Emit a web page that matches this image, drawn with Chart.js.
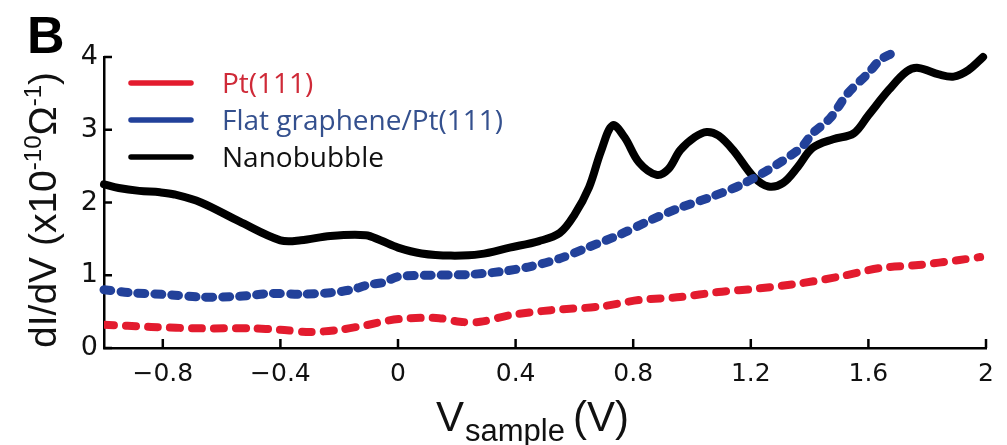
<!DOCTYPE html>
<html>
<head>
<meta charset="utf-8">
<script src="https://cdn.jsdelivr.net/npm/chart.js@4.4.0/dist/chart.umd.min.js"></script>
<style>
  body { margin: 0; background: #fff; }
  #wrap { width: 1007px; height: 445px; }
</style>
</head>
<body>
<div id="wrap"><canvas id="chart" width="1007" height="445"></canvas></div>
<script>
// dI/dV spectra, values
var seriesNames = ['Pt(111)', 'Flat graphene/Pt(111)', 'Nanobubble'];

var redX = [-1, -0.84, -0.67, -0.5, -0.4, -0.3, -0.2, -0.1, -0.03, 0.04, 0.14, 0.21, 0.28, 0.38, 0.52, 0.69, 0.82, 0.96, 1.09, 1.23, 1.37, 1.5, 1.64, 1.77, 1.91, 1.98];
var redY = [0.32, 0.29, 0.27, 0.27, 0.25, 0.22, 0.25, 0.32, 0.38, 0.41, 0.41, 0.36, 0.36, 0.45, 0.52, 0.57, 0.66, 0.7, 0.77, 0.82, 0.89, 0.98, 1.1, 1.14, 1.21, 1.25];

var blueX = [-1, -0.91, -0.77, -0.67, -0.54, -0.43, -0.33, -0.23, -0.16, -0.1, -0.05, 0, 0.11, 0.24, 0.35, 0.45, 0.55, 0.65, 0.75, 0.86, 0.96, 1.06, 1.16, 1.26, 1.37, 1.41, 1.47, 1.53, 1.6, 1.64, 1.68];
var blueY = [0.8, 0.76, 0.73, 0.7, 0.71, 0.75, 0.74, 0.76, 0.8, 0.87, 0.9, 0.98, 1.0, 1.01, 1.05, 1.12, 1.23, 1.39, 1.55, 1.76, 1.93, 2.07, 2.23, 2.45, 2.75, 2.95, 3.16, 3.5, 3.78, 3.96, 4.05];

var blackX = [-1, -0.95, -0.88, -0.81, -0.76, -0.67, -0.54, -0.4, -0.33, -0.23, -0.11, -0.06, 0, 0.08, 0.18, 0.28, 0.38, 0.48, 0.55, 0.6, 0.65, 0.69, 0.73, 0.77, 0.82, 0.88, 0.92, 0.96, 1.01, 1.05, 1.09, 1.14, 1.21, 1.26, 1.31, 1.36, 1.41, 1.48, 1.55, 1.6, 1.67, 1.73, 1.77, 1.84, 1.89, 1.94, 1.99];
var blackY = [2.25, 2.2, 2.16, 2.14, 2.11, 2.0, 1.74, 1.48, 1.48, 1.54, 1.55, 1.48, 1.38, 1.3, 1.27, 1.29, 1.38, 1.47, 1.58, 1.83, 2.21, 2.7, 3.06, 2.9, 2.55, 2.38, 2.46, 2.72, 2.9, 2.97, 2.92, 2.72, 2.35, 2.22, 2.27, 2.49, 2.75, 2.87, 2.95, 3.2, 3.55, 3.8, 3.85, 3.76, 3.73, 3.82, 4.0];

var xTicks = [-0.8, -0.4, 0, 0.4, 0.8, 1.2, 1.6, 2];
var yTicks = [0, 1, 2, 3, 4];

function pts(xs, ys) {
	var out = [];
	for (var i = 0; i < xs.length; i++) {
		out.push({x: xs[i], y: ys[i]});
	}
	return out;
}

var lineColors = ['#e31b2e', '#22419a', '#000000'];
var textColors = ['#cf2a38', '#34508e', '#111111'];

// tick marks pointing into the plot, titles with sub/superscripts, legend
var decorations = {
	id: 'decorations',
	afterDraw: function (chart) {
		var c = chart.ctx;
		var a = chart.chartArea;
		var xs = chart.scales.x, ys = chart.scales.y;
		c.save();
		c.strokeStyle = '#000';
		c.lineWidth = 2.5;
		xTicks.forEach(function (v) {
			var p = xs.getPixelForValue(v);
			c.beginPath(); c.moveTo(p, a.bottom); c.lineTo(p, a.bottom - 9); c.stroke();
		});
		yTicks.forEach(function (v) {
			var p = ys.getPixelForValue(v);
			c.beginPath(); c.moveTo(a.left, p); c.lineTo(a.left + 8, p); c.stroke();
		});

		// legend
		for (var i = 0; i < seriesNames.length; i++) {
			var ly = 83 + i * 37;
			c.strokeStyle = lineColors[i];
			c.lineWidth = 5.5;
			c.lineCap = 'round';
			c.beginPath(); c.moveTo(131, ly); c.lineTo(191, ly); c.stroke();
			c.fillStyle = textColors[i];
			c.font = '28px "Open Sans"';
			c.textBaseline = 'alphabetic';
			c.textAlign = 'left';
			c.fillText(seriesNames[i], 222, ly + 10);
		}

		// x title: V_sample (V)
		c.fillStyle = '#111';
		c.textBaseline = 'alphabetic';
		c.font = '42px "Liberation Sans"';
		var x0 = 436;
		c.fillText('V', x0, 431);
		x0 += c.measureText('V').width + 1;
		c.font = '31px "Liberation Sans"';
		c.fillText('sample', x0, 441);
		x0 += c.measureText('sample').width + 8;
		c.font = '42px "Liberation Sans"';
		c.fillText('(V)', x0, 431);

		// y title: dI/dV (x10^-10 Ω^-1)
		c.translate(56, 210);
		c.rotate(-Math.PI / 2);
		var parts = [
			['dI/dV (x10', 39, 0],
			['-10', 24, -15],
			['\u03A9', 39, 0],
			['-1', 24, -15],
			[')', 39, 0]
		];
		var total = 0;
		parts.forEach(function (p) {
			c.font = p[1] + 'px "Liberation Sans"';
			total += c.measureText(p[0]).width;
		});
		var px = -total / 2;
		parts.forEach(function (p) {
			c.font = p[1] + 'px "Liberation Sans"';
			c.fillText(p[0], px, p[2]);
			px += c.measureText(p[0]).width;
		});
		c.restore();

		// panel letter
		c.save();
		c.fillStyle = '#000';
		c.font = 'bold 52px "Liberation Sans"';
		c.textBaseline = 'alphabetic';
		c.fillText('B', 27, 53);
		c.restore();
	}
};

var chart = new Chart(document.getElementById('chart').getContext('2d'), {
	type: 'line',
	data: {
		datasets: [
			{
				label: seriesNames[0],
				data: pts(redX, redY),
				borderColor: lineColors[0],
				borderWidth: 8,
				borderDash: [10, 12],
				borderCapStyle: 'round',
				pointRadius: 0,
				tension: 0.3,
				order: 1
			},
			{
				label: seriesNames[1],
				data: pts(blueX, blueY),
				borderColor: lineColors[1],
				borderWidth: 9,
				borderDash: [7, 10],
				borderCapStyle: 'round',
				pointRadius: 0,
				tension: 0.3,
				clip: 10,
				order: 2
			},
			{
				label: seriesNames[2],
				data: pts(blackX, blackY),
				borderColor: lineColors[2],
				borderWidth: 8,
				borderCapStyle: 'round',
				borderJoinStyle: 'round',
				pointRadius: 0,
				tension: 0.35,
				clip: 10,
				order: 3
			}
		]
	},
	options: {
		responsive: false,
		animation: false,
		layout: { padding: { top: 57, right: 21, left: 0, bottom: 0 } },
		plugins: { legend: { display: false }, tooltip: { enabled: false } },
		scales: {
			x: {
				type: 'linear',
				min: -1,
				max: 2,
				afterBuildTicks: function (scale) {
					scale.ticks = xTicks.map(function (v) { return {value: v}; });
				},
				afterFit: function (scale) { scale.height = 97; },
				grid: { display: false, drawTicks: false },
				border: { display: true, color: '#000', width: 2.5 },
				ticks: {
					padding: 11,
					color: '#111',
					font: { family: 'DejaVu Sans', size: 25 },
					maxRotation: 0,
					autoSkip: false,
					callback: function (v) {
						return v < 0 ? '\u2212' + String(Math.abs(v)) : String(v);
					}
				}
			},
			y: {
				min: 0,
				max: 4,
				afterBuildTicks: function (scale) {
					scale.ticks = yTicks.map(function (v) { return {value: v}; });
				},
				afterFit: function (scale) { scale.width = 104; },
				grid: { display: false, drawTicks: false },
				border: { display: true, color: '#000', width: 2.5 },
				ticks: {
					padding: 6,
					color: '#111',
					font: { family: 'DejaVu Sans', size: 27 }
				}
			}
		}
	},
	plugins: [decorations]
});
</script>
</body>
</html>
